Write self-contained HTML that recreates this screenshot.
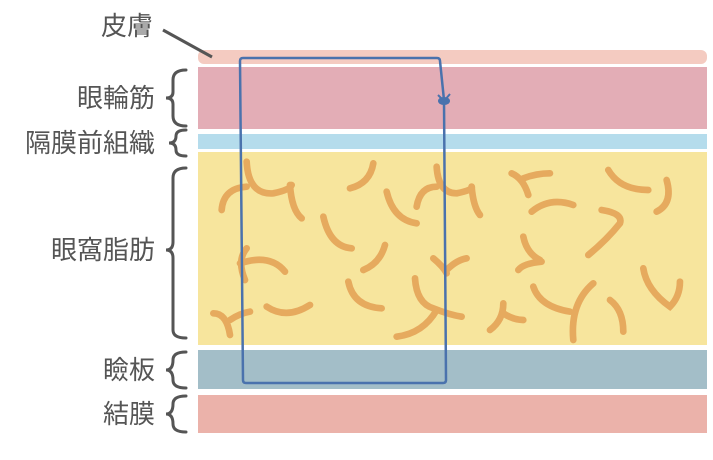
<!DOCTYPE html>
<html><head><meta charset="utf-8"><style>
body{margin:0;background:#fff;width:713px;height:460px;overflow:hidden}
svg{display:block}
text{font-family:"Liberation Sans","Noto Sans CJK JP",sans-serif;font-size:26px;fill:#555}
</style></head><body>
<svg width="713" height="460" viewBox="0 0 713 460">
<rect x="198" y="50" width="509" height="14" rx="6" fill="#f4cbc1"/>
<rect x="198" y="67" width="509" height="62" fill="#e3adb6"/>
<rect x="198" y="134" width="509" height="15" fill="#b5dcec"/>
<rect x="198" y="152" width="509" height="193" fill="#f7e59d"/>
<rect x="198" y="350" width="509" height="39" fill="#a3bec8"/>
<rect x="198" y="395" width="509" height="38" fill="#ebb2aa"/>
<g transform="translate(190,140) scale(0.3333)" fill="none" stroke="#e6aa5e" stroke-width="20" stroke-linecap="round">
<path d="M95 210 Q100 145 170 140"/>
<path d="M170 65 Q175 165 250 160 Q300 150 305 135"/><path d="M300 135 Q305 210 335 235"/>
<path d="M480 145 Q540 130 550 70"/>
<path d="M400 230 Q420 320 485 325"/>
<path d="M590 155 Q610 240 680 250"/>
<path d="M680 200 Q690 140 740 140"/>
<path d="M740 80 Q745 160 800 160 Q850 150 845 140"/><path d="M845 140 Q850 200 870 225"/>
<path d="M965 100 Q1000 115 1015 165"/><path d="M1000 115 Q1040 100 1080 100"/>
<path d="M1025 215 Q1080 170 1150 195"/>
<path d="M1255 90 Q1290 150 1375 150"/>
<path d="M1430 120 Q1450 190 1400 215"/>
<path d="M1235 210 Q1300 220 1290 250 Q1250 300 1195 345"/>
<path d="M1000 290 Q1010 340 1050 360"/><path d="M985 390 Q1000 370 1055 365"/>
<path d="M170 325 Q140 360 165 420"/><path d="M150 370 Q240 340 285 395"/>
<path d="M70 520 Q110 520 120 585"/><path d="M120 540 Q150 520 180 515"/>
<path d="M230 500 Q290 540 360 495"/>
<path d="M520 390 Q570 370 585 315"/>
<path d="M475 425 Q490 500 575 505"/>
<path d="M675 415 Q680 490 730 505 Q780 525 815 530"/><path d="M620 590 Q700 580 740 510"/>
<path d="M730 355 Q760 380 770 400"/><path d="M770 390 Q800 360 830 355"/>
<path d="M900 570 Q940 540 940 490"/><path d="M940 520 Q970 540 1000 540"/>
<path d="M1030 440 Q1050 500 1140 515"/><path d="M1150 600 Q1140 490 1210 430"/>
<path d="M1260 480 Q1300 510 1300 575"/>
<path d="M1360 385 Q1370 450 1440 500 Q1470 470 1470 425"/>
</g>
<path d="M243 58 L437 58 Q440 58 440 61 L444 100 L446 380 Q446 383 443 383 L246 383 Q243 383 243 380 L240 61 Q240 58 243 58 Z" fill="none" stroke="#4a72ad" stroke-width="2.5"/>
<ellipse cx="444" cy="101" rx="6" ry="4" fill="#4a72ad"/>
<path d="M438 95 L444 101 L450 94" fill="none" stroke="#4a72ad" stroke-width="2"/>
<line x1="163" y1="30" x2="212" y2="57" stroke="#555" stroke-width="3"/>
<g fill="none" stroke="#555" stroke-width="3" stroke-linecap="round">
<path d="M186 70 Q173 70 173 80 L173 92 Q173 98 166 98 Q173 98 173 104 L173 116 Q173 126 186 126"/>
<path d="M186 130 Q176 130 176 136 Q176 143 169 143 Q176 143 176 150 Q176 156 186 156"/>
<path d="M186 168 Q173 168 173 178 L173 242 Q173 250 166 250 Q173 250 173 258 L173 330 Q173 338 186 338"/>
<path d="M186 352 Q173 352 173 360 Q173 370 166 370 Q173 370 173 380 Q173 388 186 388"/>
<path d="M186 396 Q173 396 173 404 Q173 414 166 414 Q173 414 173 424 Q173 432 186 432"/>
</g>
<g text-anchor="end">
<text x="153" y="35">皮膚</text>
<text x="155" y="107">眼輪筋</text>
<text x="155" y="152">隔膜前組織</text>
<text x="155" y="259">眼窩脂肪</text>
<text x="155" y="379">瞼板</text>
<text x="155" y="423">結膜</text>
</g>
</svg>
</body></html>
